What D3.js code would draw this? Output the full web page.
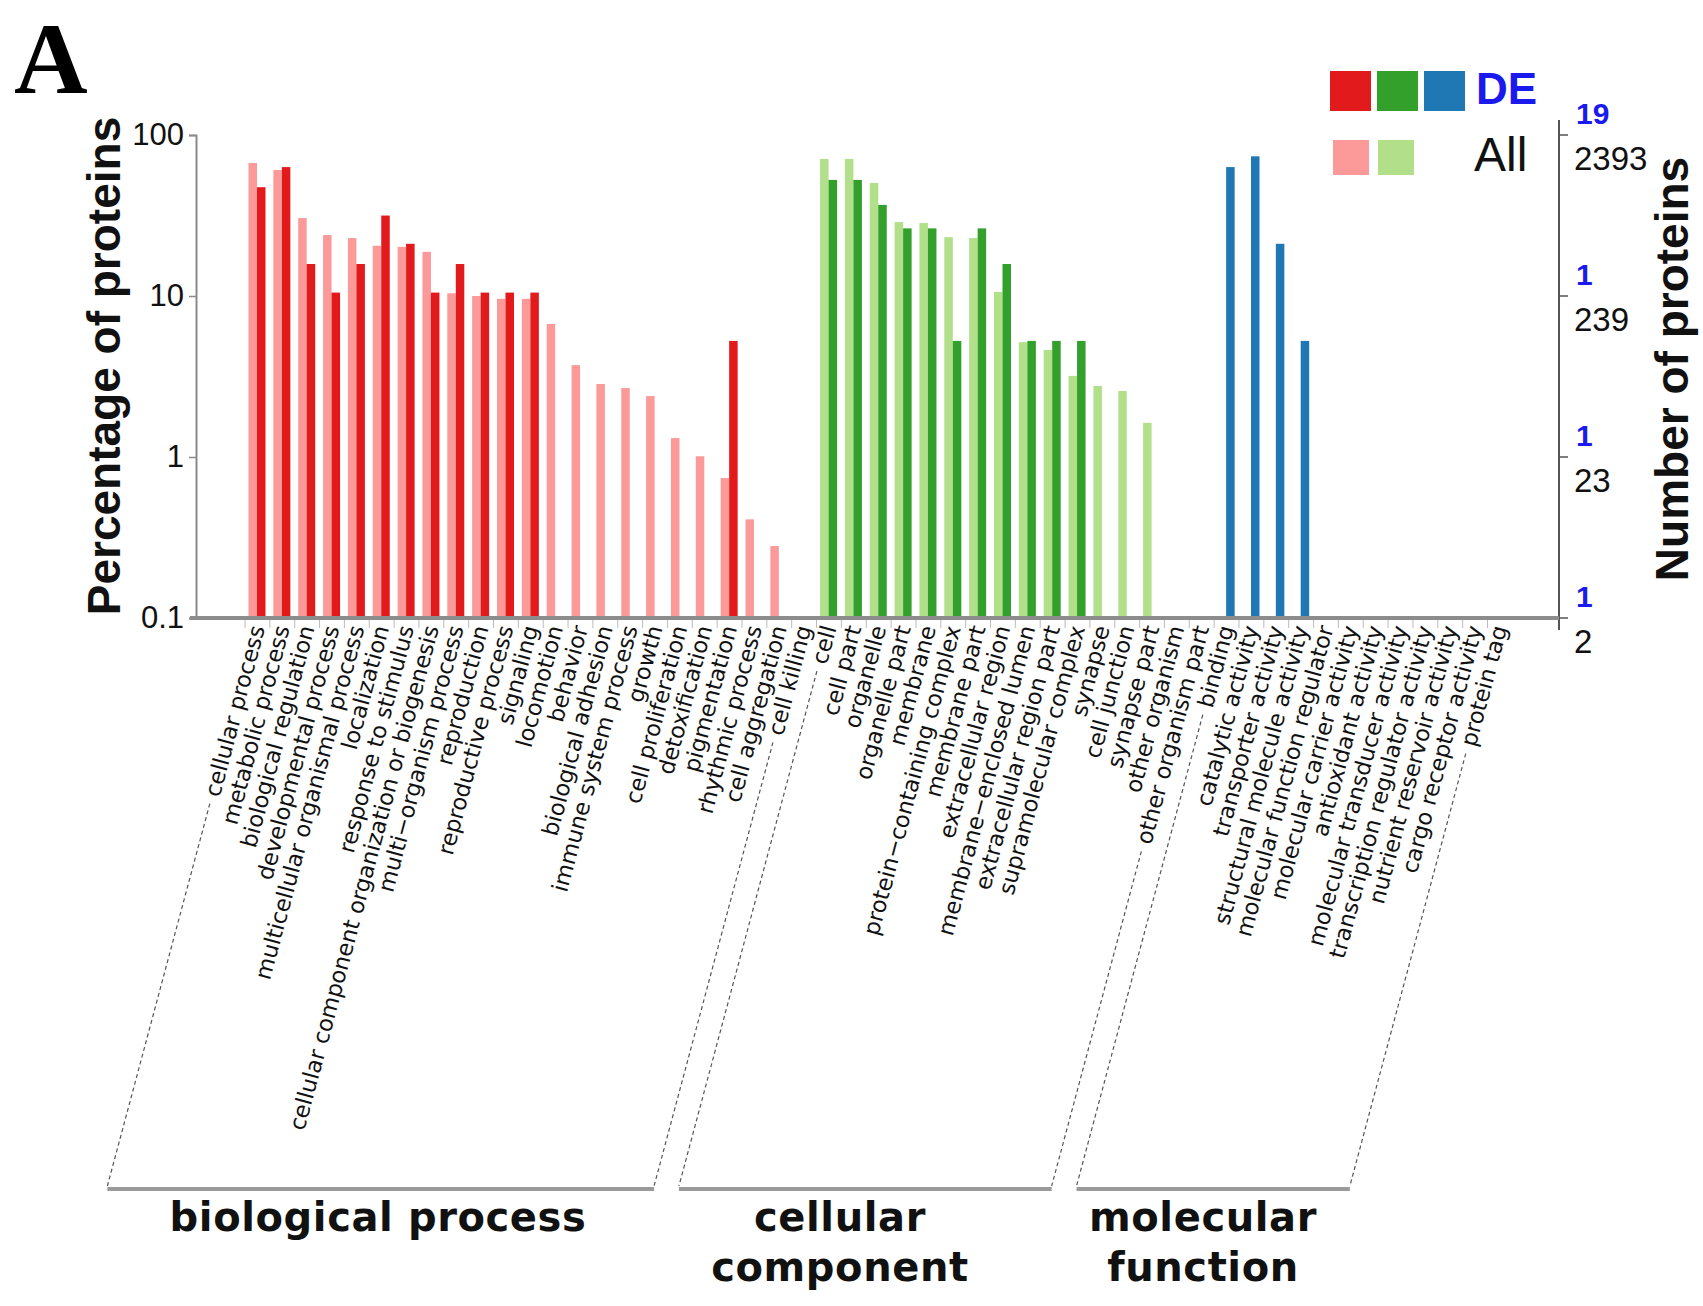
<!DOCTYPE html>
<html>
<head>
<meta charset="utf-8">
<script src="https://cdn.jsdelivr.net/npm/d3@7"></script>
<style>
  body { margin: 0; background: #fff; }
  svg { display: block; }
</style>
</head>
<body>
<svg id="chart" width="1703" height="1306"></svg>
<script>
// GO terms, one list per ontology
var bpTerms = ["cellular process", "metabolic process", "biological regulation", "developmental process",
  "multicellular organismal process", "localization", "response to stimulus",
  "cellular component organization or biogenesis", "multi\u2212organism process", "reproduction",
  "reproductive process", "signaling", "locomotion", "behavior", "biological adhesion",
  "immune system process", "growth", "cell proliferation", "detoxification", "pigmentation",
  "rhythmic process", "cell aggregation", "cell killing"];
var ccTerms = ["cell", "cell part", "organelle", "organelle part", "membrane", "protein\u2212containing complex",
  "membrane part", "extracellular region", "membrane\u2212enclosed lumen", "extracellular region part",
  "supramolecular complex", "synapse", "cell junction", "synapse part", "other organism", "other organism part"];
var mfTerms = ["binding", "catalytic activity", "transporter activity", "structural molecule activity",
  "molecular function regulator", "molecular carrier activity", "antioxidant activity",
  "molecular transducer activity", "transcription regulator activity", "nutrient reservoir activity",
  "cargo receptor activity", "protein tag"];

// percentage of proteins (null = no bar)
var bpAll = [67, 60.6, 30.5, 23.9, 22.9, 20.5, 20.2, 18.8, 10.4, 10.0, 9.6, 9.6, 6.7, 3.72, 2.84,
  2.68, 2.39, 1.31, 1.01, 0.74, 0.41, 0.28, null];
var bpDE = [47.4, 63.2, 15.8, 10.5, 15.8, 31.6, 21.1, 10.5, 15.8, 10.5, 10.5, 10.5, null, null, null,
  null, null, null, null, 5.26, null, null, null];
var ccAll = [71, 71, 50.4, 28.8, 28.4, 23.2, 22.9, 10.6, 5.17, 4.62, 3.19, 2.76, 2.57, 1.63, null, null];
var ccDE = [52.6, 52.6, 36.8, 26.3, 26.3, 5.26, 26.3, 15.8, 5.26, 5.26, 5.26, null, null, null, null, null];
var mfDE = [63.2, 73.7, 21.1, 5.26, null, null, null, null, null, null, null, null];

var groupNames = [["biological process"], ["cellular", "component"], ["molecular", "function"]];
var leftTicks = [100, 10, 1, 0.1];
var rightAll = ["2393", "239", "23", "2"];
var rightDE = ["19", "1", "1", "1"];

var colors = {
  bp: ["#fb9a99", "#e31a1c"],
  cc: ["#b2df8a", "#33a02c"],
  mf: [null, "#1f78b4"]
};

var svg = d3.select("#chart");
var allTerms = bpTerms.concat(ccTerms, mfTerms);

var x = d3.scaleBand().domain(allTerms).range([245, 245 + 51 * 24.85]);
var bw = x.bandwidth();
var sub = d3.scaleBand().domain(["All", "DE"]).range([3.5, 20.5]);
var y = d3.scaleLog().domain([0.1, 100]).range([618, 135]);

// rows of bars
var rows = [];
function addRows(terms, vals, key, series) {
  terms.forEach(function(t, i) {
    if (vals[i] != null) rows.push({ term: t, value: vals[i], series: series, color: colors[key][series == "All" ? 0 : 1] });
  });
}
addRows(bpTerms, bpAll, "bp", "All");
addRows(bpTerms, bpDE, "bp", "DE");
addRows(ccTerms, ccAll, "cc", "All");
addRows(ccTerms, ccDE, "cc", "DE");
addRows(mfTerms, mfDE, "mf", "DE");

svg.selectAll("rect.bar")
  .data(rows)
  .enter().append("rect")
    .attr("class", "bar")
    .attr("x", d => x(d.term) + sub(d.series))
    .attr("width", sub.bandwidth())
    .attr("y", d => y(d.value))
    .attr("height", d => y(0.1) - y(d.value))
    .attr("fill", d => d.color);

// left axis
var leftAxis = d3.axisLeft(y).tickValues(leftTicks).tickSize(7).tickFormat(d => d == 0.1 ? "0.1" : d3.format("d")(d));
var gl = svg.append("g").attr("transform", "translate(196,0)").call(leftAxis);
gl.select(".domain").attr("stroke", "#8a8a8a").attr("stroke-width", 2);
gl.selectAll(".tick line").attr("stroke", "#8a8a8a").attr("stroke-width", 1.5);
gl.selectAll(".tick text").attr("font-family", "Liberation Sans, Arial, sans-serif")
  .attr("font-size", 31).attr("fill", "#111").attr("x", -12);

// right axis: numbers of proteins
var gr = svg.append("g").attr("transform", "translate(1559,0)");
gr.append("line").attr("y1", 120).attr("y2", 630).attr("stroke", "#555").attr("stroke-width", 2);
leftTicks.forEach(function(v, i) {
  gr.append("line").attr("x1", 0).attr("x2", 9).attr("y1", y(v)).attr("y2", y(v))
    .attr("stroke", "#555").attr("stroke-width", 1.5);
  gr.append("text").attr("x", 17).attr("y", y(v) - 11).text(rightDE[i])
    .attr("font-family", "Liberation Sans, Arial, sans-serif").attr("font-size", 30)
    .attr("font-weight", "bold").attr("fill", "#1a1aee");
  gr.append("text").attr("x", 15).attr("y", y(v) + 35).text(rightAll[i])
    .attr("font-family", "Liberation Sans, Arial, sans-serif").attr("font-size", 33).attr("fill", "#111");
});

// x baseline and small ticks
svg.append("line").attr("x1", 190).attr("x2", 1559).attr("y1", y(0.1)).attr("y2", y(0.1))
  .attr("stroke", "#8c8c8c").attr("stroke-width", 4);
svg.selectAll("line.xt")
  .data(allTerms)
  .enter().append("line")
    .attr("class", "xt")
    .attr("x1", d => x(d)).attr("x2", d => x(d))
    .attr("y1", 620).attr("y2", 628)
    .attr("stroke", "#bbb").attr("stroke-width", 1);

// rotated term labels
var ang = -75;
var rad = ang * Math.PI / 180;
var labelY = 626;
var labels = svg.selectAll("text.term")
  .data(allTerms)
  .enter().append("text")
    .attr("class", "term")
    .attr("transform", d => "translate(" + (x(d) + bw / 2) + "," + labelY + ") rotate(" + ang + ")")
    .attr("text-anchor", "end")
    .attr("dy", "0.35em")
    .attr("font-family", "DejaVu Sans, Verdana, sans-serif")
    .attr("font-size", 22.5)
    .attr("fill", "#111")
    .text(d => d);

// group brackets
var dirX = -Math.cos(rad), dirY = -Math.sin(rad); // pointing down along the label line
var bottomY = 1186;
var groups = [bpTerms, ccTerms, mfTerms];
var labelNodes = labels.nodes();
function lineFor(term) {
  var idx = allTerms.indexOf(term);
  var len = labelNodes[idx].getComputedTextLength() + 8;
  var cx = x(term) + bw / 2;
  var t = (bottomY - labelY) / dirY;
  return { x1: cx + dirX * len, y1: labelY + dirY * len, x2: cx + dirX * t, y2: bottomY };
}
var groupX = [378, 840, 1203];
groups.forEach(function(terms, gi) {
  var a = lineFor(terms[0]), b = lineFor(terms[terms.length - 1]);
  [a, b].forEach(function(l) {
    svg.append("line").attr("x1", l.x1).attr("y1", l.y1).attr("x2", l.x2).attr("y2", l.y2)
      .attr("stroke", "#555").attr("stroke-width", 1.2).attr("stroke-dasharray", "4,3");
  });
  svg.append("line").attr("x1", a.x2).attr("x2", b.x2).attr("y1", bottomY + 3).attr("y2", bottomY + 3)
    .attr("stroke", "#9a9a9a").attr("stroke-width", 4);
  groupNames[gi].forEach(function(s, li) {
    svg.append("text").attr("x", groupX[gi]).attr("y", 1231 + li * 50)
      .attr("text-anchor", "middle")
      .attr("font-family", "DejaVu Sans, sans-serif").attr("font-weight", "bold")
      .attr("font-size", 40).attr("letter-spacing", 0.6).attr("fill", "#111").text(s);
  });
});

// axis titles
svg.append("text").attr("transform", "translate(120,366) rotate(-90)")
  .attr("text-anchor", "middle").attr("font-family", "Liberation Sans, Arial, sans-serif")
  .attr("font-weight", "bold").attr("font-size", 46).attr("fill", "#111").text("Percentage of proteins");
svg.append("text").attr("transform", "translate(1688,369) rotate(-90)")
  .attr("text-anchor", "middle").attr("font-family", "Liberation Sans, Arial, sans-serif")
  .attr("font-weight", "bold").attr("font-size", 46).attr("fill", "#111").text("Number of proteins");

// panel letter
svg.append("text").attr("x", 14).attr("y", 93).attr("font-family", "Liberation Serif, Times New Roman, serif")
  .attr("font-weight", "bold").attr("font-size", 102).attr("fill", "#000").text("A");

// legend
var deSw = [colors.bp[1], colors.cc[1], colors.mf[1]];
var allSw = [colors.bp[0], colors.cc[0]];
svg.selectAll("rect.lgde").data(deSw).enter().append("rect").attr("class", "lgde")
  .attr("x", (d, i) => 1330 + i * 47).attr("y", 71).attr("width", 41).attr("height", 40).attr("fill", d => d);
svg.selectAll("rect.lgall").data(allSw).enter().append("rect").attr("class", "lgall")
  .attr("x", (d, i) => 1333 + i * 45).attr("y", 140).attr("width", 36).attr("height", 35).attr("fill", d => d);
svg.append("text").attr("x", 1476).attr("y", 104).attr("font-family", "Liberation Sans, Arial, sans-serif")
  .attr("font-weight", "bold").attr("font-size", 44).attr("fill", "#1a1aee").text("DE");
svg.append("text").attr("x", 1474).attr("y", 171).attr("font-family", "Liberation Sans, Arial, sans-serif")
  .attr("font-size", 48).attr("fill", "#111").text("All");
</script>
</body>
</html>
